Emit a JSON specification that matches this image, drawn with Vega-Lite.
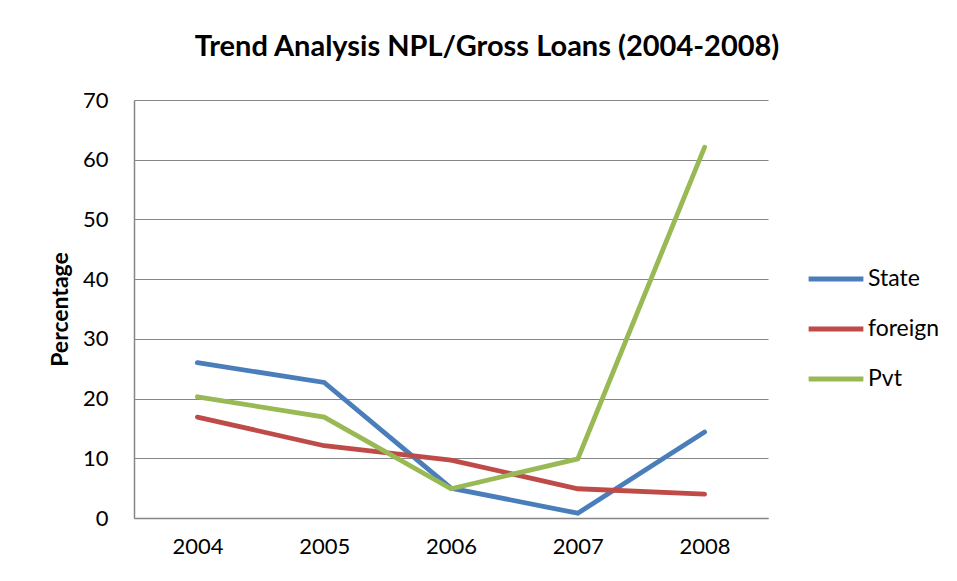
{
  "$schema": "https://vega.github.io/schema/vega-lite/v6.json",
  "width": 634,
  "height": 418,
  "autosize": "none",
  "padding": {"left": 134, "top": 100, "right": 189, "bottom": 63},
  "background": "white",
  "title": {
    "text": "Trend Analysis NPL/Gross Loans (2004-2008)",
    "font": "Lato",
    "fontSize": 29,
    "fontWeight": "bold",
    "color": "black",
    "anchor": "middle",
    "frame": "group",
    "dx": 36,
    "offset": 27
  },
  "data": {
    "values": [
      {"year": "2004", "series": "State", "value": 26.0},
      {"year": "2005", "series": "State", "value": 22.7},
      {"year": "2006", "series": "State", "value": 5.0},
      {"year": "2007", "series": "State", "value": 0.8},
      {"year": "2008", "series": "State", "value": 14.4},
      {"year": "2004", "series": "foreign", "value": 16.9},
      {"year": "2005", "series": "foreign", "value": 12.1},
      {"year": "2006", "series": "foreign", "value": 9.7},
      {"year": "2007", "series": "foreign", "value": 4.9},
      {"year": "2008", "series": "foreign", "value": 4.0},
      {"year": "2004", "series": "Pvt", "value": 20.3},
      {"year": "2005", "series": "Pvt", "value": 16.9},
      {"year": "2006", "series": "Pvt", "value": 4.9},
      {"year": "2007", "series": "Pvt", "value": 9.9},
      {"year": "2008", "series": "Pvt", "value": 62.1}
    ]
  },
  "config": {
    "view": {"stroke": null},
    "font": "Lato"
  },
  "mark": {"type": "line", "strokeWidth": 4.8, "strokeCap": "round", "strokeJoin": "miter"},
  "encoding": {
    "x": {
      "field": "year",
      "type": "ordinal",
      "scale": {"paddingInner": 0, "paddingOuter": 0.5},
      "axis": {
        "title": null,
        "labelAngle": 0,
        "labelFont": "Lato",
        "labelFontSize": 22,
        "labelColor": "black",
        "labelPadding": 18,
        "ticks": false,
        "domainColor": "#868686",
        "domainWidth": 1.5,
        "grid": false
      }
    },
    "y": {
      "field": "value",
      "type": "quantitative",
      "scale": {"domain": [0, 70], "nice": false},
      "axis": {
        "title": "Percentage",
        "titleFont": "Lato",
        "titleFontSize": 23,
        "titleFontWeight": "bold",
        "titleColor": "black",
        "titlePadding": 10,
        "values": [0, 10, 20, 30, 40, 50, 60, 70],
        "labelFont": "Lato",
        "labelFontSize": 22,
        "labelColor": "black",
        "labelPadding": 26,
        "ticks": false,
        "domainColor": "#868686",
        "domainWidth": 1.5,
        "gridColor": "#868686",
        "gridWidth": 1.2
      }
    },
    "color": {
      "field": "series",
      "type": "nominal",
      "sort": ["State", "foreign", "Pvt"],
      "scale": {"domain": ["State", "foreign", "Pvt"], "range": ["#4A7EBB", "#BE4B48", "#98B954"]},
      "legend": {
        "title": null,
        "orient": "none",
        "legendX": 672,
        "legendY": 149,
        "symbolType": "stroke",
        "symbolSize": 3000,
        "symbolStrokeWidth": 5,
        "labelFont": "Lato",
        "labelFontSize": 23,
        "labelColor": "black",
        "labelOffset": 2,
        "rowPadding": 8
      }
    }
  }
}
